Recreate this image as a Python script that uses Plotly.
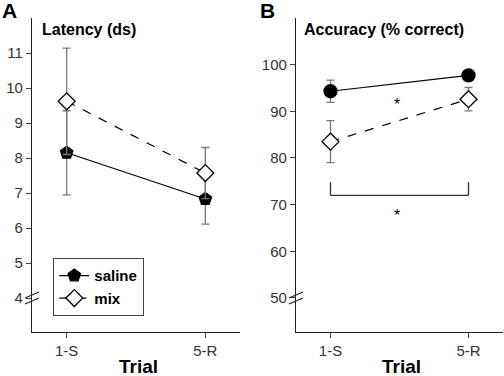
import plotly.graph_objects as go

trials = ["1-S", "5-R"]
# Panel A: latency (ds)
lat_saline = [8.15, 6.83]
lat_saline_err = [1.2, 0.72]
lat_mix = [9.62, 7.57]
lat_mix_err = [1.52, 0.73]
# Panel B: accuracy (% correct)
acc_saline = [94.3, 97.7]
acc_saline_err = [2.4, 0.8]
acc_mix = [83.5, 92.6]
acc_mix_err = [4.5, 2.5]

lat_ticks = [4, 5, 6, 7, 8, 9, 10, 11]
acc_ticks = [50, 60, 70, 80, 90, 100]

NARROW = "Liberation Sans Narrow, Arial Narrow, Liberation Sans, Arial"
BOLD = "Liberation Sans, Arial, sans-serif"
ERRC = "#777777"

fig = go.Figure()

def add(x, y, err, name, xa, ya, symbol, fill, dash, show):
    fig.add_trace(go.Scatter(
        x=x, y=y, name=name, xaxis=xa, yaxis=ya, mode="lines+markers",
        line=dict(color="black", width=1.2, dash=dash),
        marker=dict(symbol=symbol, size=13, color=fill, line=dict(color="black", width=1.3)),
        error_y=dict(type="data", array=err, visible=True, color=ERRC, thickness=1.3, width=4),
        showlegend=show,
    ))

add(trials, lat_saline, lat_saline_err, "<b>saline</b>", "x", "y", "pentagon", "black", "solid", True)
add(trials, lat_mix, lat_mix_err, "<b>mix</b>", "x", "y", "diamond", "white", "dash", True)
add(trials, acc_saline, acc_saline_err, "saline", "x2", "y2", "circle", "black", "solid", False)
add(trials, acc_mix, acc_mix_err, "mix", "x2", "y2", "diamond", "white", "dash", False)

axis_common = dict(showline=True, linecolor="#222222", linewidth=1.3, ticks="outside",
                   ticklen=5, tickcolor="#444444", tickwidth=1, showgrid=False, zeroline=False,
                   tickfont=dict(family=NARROW, size=15, color="#333333"))

y0, y1 = 1 - 332/376, 1 - 18/376
fig.update_layout(
    width=504, height=376, margin=dict(l=0, r=0, t=0, b=0),
    paper_bgcolor="white", plot_bgcolor="white",
    xaxis=dict(domain=[32/504, 240/504], range=[-0.25, 1.25], anchor="y", **axis_common),
    yaxis=dict(domain=[y0, y1], range=[3.03, 12.0], anchor="x", tickvals=lat_ticks, **axis_common),
    xaxis2=dict(domain=[296/504, 503/504], range=[-0.25, 1.25], anchor="y2", **axis_common),
    yaxis2=dict(domain=[y0, y1], range=[42.7, 110.0], anchor="x2", tickvals=acc_ticks, **axis_common),
    legend=dict(x=53/504, y=1 - 258/376, xanchor="left", yanchor="top",
                bordercolor="#444444", borderwidth=1.3, bgcolor="white",
                font=dict(family=NARROW, size=15, color="black"),
                tracegroupgap=0, itemwidth=30),
    showlegend=True,
)

ann = [
    dict(text="<b>A</b>", x=0, y=1.0, xref="paper", yref="paper", xanchor="left", yanchor="top",
         showarrow=False, font=dict(family=BOLD, size=21, color="black"), yshift=3),
    dict(text="<b>B</b>", x=258/504, y=1.0, xref="paper", yref="paper", xanchor="left", yanchor="top",
         showarrow=False, font=dict(family=BOLD, size=21, color="black"), yshift=3),
    dict(text="<b>Latency (ds)</b>", x=40/504, y=1 - 29/376, xref="paper", yref="paper",
         xanchor="left", yanchor="middle", showarrow=False, font=dict(family=BOLD, size=16, color="black")),
    dict(text="<b>Accuracy (% correct)</b>", x=302/504, y=1 - 30/376, xref="paper", yref="paper",
         xanchor="left", yanchor="middle", showarrow=False, font=dict(family=BOLD, size=16, color="black")),
    dict(text="<b>Trial</b>", x=138/504, y=0, xref="paper", yref="paper",
         xanchor="center", yanchor="bottom", showarrow=False, yshift=-3,
         font=dict(family=NARROW, size=19, color="black")),
    dict(text="<b>Trial</b>", x=401/504, y=0, xref="paper", yref="paper",
         xanchor="center", yanchor="bottom", showarrow=False, yshift=-3,
         font=dict(family=NARROW, size=19, color="black")),
    dict(text="*", x=0.48, y=91.5, xref="x2", yref="y2", showarrow=False,
         font=dict(family=BOLD, size=16, color="black")),
    dict(text="*", x=0.48, y=67.6, xref="x2", yref="y2", showarrow=False,
         font=dict(family=BOLD, size=16, color="black")),
]
fig.update_layout(annotations=ann)

shapes = []
# significance bracket in panel B
for (xa, ya, xb, yb) in [(0, 74.8, 0, 72.0), (0, 72.0, 1, 72.0), (1, 72.0, 1, 74.8)]:
    shapes.append(dict(type="line", xref="x2", yref="y2", x0=xa, y0=ya, x1=xb, y1=yb,
                       line=dict(color="#333333", width=1.3)))
# axis break marks
for (ax_px, y_px) in [(32, 298), (296, 298)]:
    for dy in (-3, 3):
        shapes.append(dict(type="line", xref="paper", yref="paper",
                           x0=(ax_px - 7)/504, y0=1 - (y_px + dy + 3)/376,
                           x1=(ax_px + 7)/504, y1=1 - (y_px + dy - 3)/376,
                           line=dict(color="#222222", width=1.2)))
fig.update_layout(shapes=shapes)

fig.write_html("out.html", config={"displayModeBar": False},
               post_script="document.body.style.margin='0';document.body.style.overflow='hidden';")
